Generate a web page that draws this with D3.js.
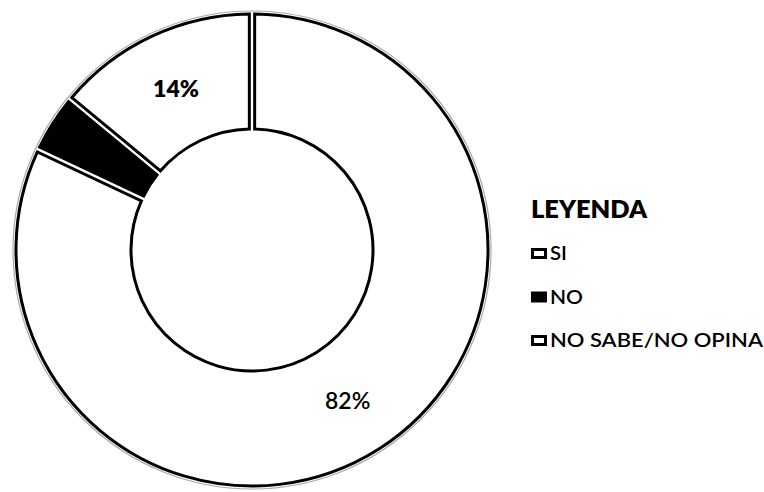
<!DOCTYPE html>
<html><head><meta charset="utf-8">
<script src="https://cdn.jsdelivr.net/npm/d3@7"></script>
<style>body{margin:0;background:#fff}svg{display:block}</style>
</head><body>
<svg id="c" width="764" height="492"></svg>
<script>
const categories = ["SI", "NO", "NO SABE/NO OPINA"];
const values = [82, 4, 14];
const labels = ["82%", "4%", "14%"];
const fills = ["#ffffff", "#000000", "#ffffff"];
const labelColors = ["#000", "#000", "#000"];
const legendTitle = "LEYENDA";

const svg = d3.select("#c");
const cx = 252, cy = 250, R = 236, r0 = 121;
const data = categories.map((c, i) => ({cat: c, v: values[i], label: labels[i], fill: fills[i], lc: labelColors[i]}));
const pie = d3.pie().value(d => d.v).sort(null);
const arc = d3.arc().innerRadius(r0).outerRadius(R).padAngle(0.02);
const arcs = pie(data);
const g = svg.append("g").attr("transform", `translate(${cx},${cy})`);
// faint outer halo like the scan
g.append("circle").attr("r", R + 3).attr("fill", "none").attr("stroke", "#aaa").attr("stroke-width", 1.2);
g.selectAll("path.s").data(arcs).join("path").attr("class", "s")
  .attr("d", arc).attr("fill", d => d.data.fill)
  .attr("stroke", "#000").attr("stroke-width", 3).attr("stroke-linejoin", "miter");
g.selectAll("text.l").data(arcs).join("text").attr("class", "l")
  .attr("transform", d => `translate(${arc.centroid(d)})`)
  .attr("text-anchor", "middle").attr("dy", "0.36em")
  .attr("font-family", "Lato, 'Open Sans', sans-serif").attr("font-weight", d => d.data.cat === "SI" ? 600 : 800)
  .attr("font-size", 23).attr("fill", d => d.data.lc)
  .text(d => d.data.label);

// legend
const font = "Lato, 'Open Sans', sans-serif";
svg.append("text").attr("x", 531).attr("y", 218).attr("font-family", font)
  .attr("font-weight", 800).attr("font-size", 25).attr("fill", "#000")
  .attr("textLength", 116).attr("lengthAdjust", "spacingAndGlyphs").text(legendTitle);
const lg = svg.selectAll("g.lg").data(data).join("g").attr("class", "lg")
  .attr("transform", (d, i) => `translate(531, ${260 + i * 43.5})`);
lg.append("rect").attr("x", 1.5).attr("y", -10.5).attr("width", 13).attr("height", 8)
  .attr("fill", d => d.fill).attr("stroke", "#000").attr("stroke-width", 3);
const lens = [17, 33, 213];
lg.append("text").attr("x", 19).attr("y", 0).attr("font-family", font)
  .attr("font-weight", 600).attr("font-size", 20).attr("fill", "#000")
  .attr("textLength", (d, i) => lens[i]).attr("lengthAdjust", "spacingAndGlyphs")
  .text(d => d.cat);
</script>
</body></html>
